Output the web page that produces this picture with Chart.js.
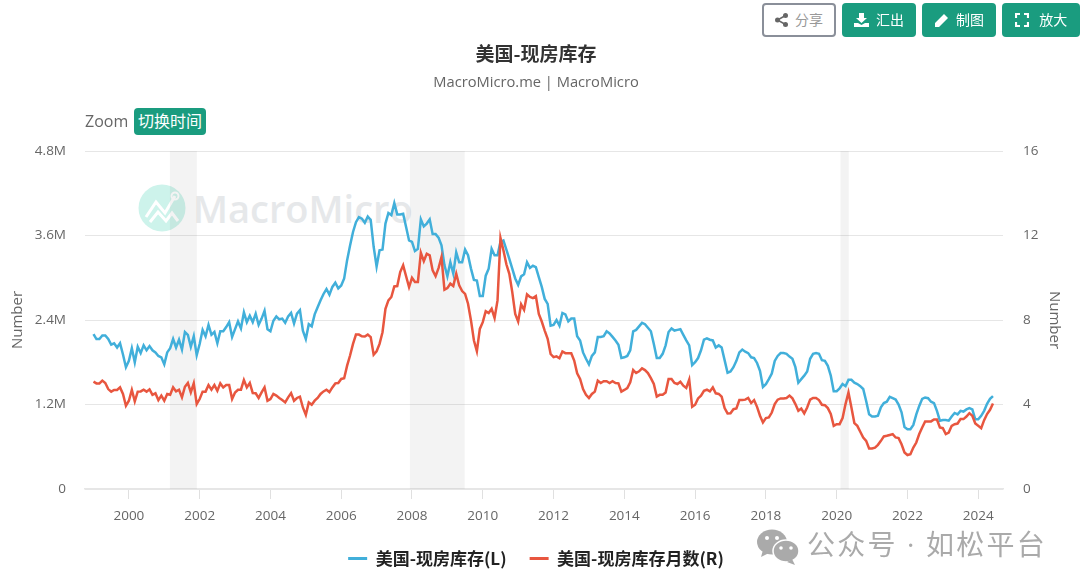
<!DOCTYPE html>
<html>
<head>
<meta charset="utf-8">
<script src="https://cdn.jsdelivr.net/npm/chart.js@4"></script>
<style>
  html, body { margin: 0; padding: 0; background: #fff; }
  #wrap { position: relative; width: 1080px; height: 587px; overflow: hidden; font-family: "Open Sans", "Noto Sans CJK SC", sans-serif; }
  canvas { position: absolute; left: 0; top: 0; }
  .btn { position: absolute; top: 3px; height: 34px; box-sizing: border-box; border-radius: 4px; background: #1a9c7f; color: #fff; font-size: 14px; line-height: 34px; text-align: center; }
  .btn svg { vertical-align: -2px; margin-right: 7px; }
  .btn.share { background: #fff; color: #999; border: 2px solid #8a8f99; line-height: 30px; }
  #zoomLabel { position: absolute; left: 85px; top: 110px; font-size: 16px; color: #666; }
  #zoomBtn { position: absolute; left: 134px; top: 108px; width: 72px; height: 27px; border-radius: 4px; background: #1a9c7f; color: #fff; font-size: 16px; line-height: 27px; text-align: center; }
  #mark { position: absolute; left: 138px; top: 184px; width: 270px; height: 50px; color: #e6e8ea; font: 600 38px "Open Sans", sans-serif; }
  #mark span { position: absolute; left: 55px; top: -2px; white-space: nowrap; }
  #wx { position: absolute; left: 757px; top: 526px; width: 300px; height: 40px; color: #aaa; font-size: 28px; line-height: 36px; white-space: nowrap; }
  #wx span { position: absolute; left: 50px; top: 0; letter-spacing: 2.2px; }
</style>
</head>
<body>
<div id="wrap">
  <div id="mark">
    <svg width="48" height="48" style="position:absolute;left:0;top:0">
      <circle cx="24" cy="24" r="23.5" fill="#cdf3eb"/>
      <polyline points="8,33 18,18 27,29 37,12" fill="none" stroke="#fff" stroke-width="3"/>
      <polyline points="12,38 20,28 28,37 34,29 40,37" fill="none" stroke="#fff" stroke-width="3"/>
      <circle cx="37" cy="12" r="3.5" fill="none" stroke="#fff" stroke-width="2"/>
    </svg>
    <span>MacroMicro</span>
  </div>
  <canvas id="chart" width="1080" height="587"></canvas>
  <div class="btn share" style="left:762px;width:74px">
    <svg width="13" height="14" viewBox="0 0 13 14"><circle cx="10.5" cy="2.5" r="2.5" fill="#666"/><circle cx="10.5" cy="11.5" r="2.5" fill="#666"/><circle cx="2.5" cy="7" r="2.5" fill="#666"/><path d="M10.5 2.5L2.5 7L10.5 11.5" stroke="#666" stroke-width="1.5" fill="none"/></svg>分享</div>
  <div class="btn" style="left:842px;width:74px">
    <svg width="15" height="14" viewBox="0 0 15 14"><path d="M5 0h5v5h3l-5.500 5L2 5h3zM0 10h4l3.500 2L11 10h4v4H0z" fill="#fff"/></svg>汇出</div>
  <div class="btn" style="left:922px;width:74px">
    <svg width="15" height="14" viewBox="0 0 15 14"><path d="M1 10L10 1l4 4-9 9H1zM11 0l4 4" fill="#fff"/></svg>制图</div>
  <div class="btn" style="left:1002px;width:78px">
    <svg width="14" height="14" viewBox="0 0 14 14"><path d="M1 5V1h4M9 1h4v4M13 9v4H9M5 13H1V9" fill="none" stroke="#fff" stroke-width="2.200"/></svg>&nbsp;放大</div>
  <div id="zoomLabel">Zoom</div>
  <div id="zoomBtn">切换时间</div>
  <div id="wx">
    <svg width="42" height="36" viewBox="0 0 42 36" style="position:absolute;left:0;top:3px">
      <ellipse cx="15" cy="13" rx="15" ry="12.500" fill="#aaa"/>
      <path d="M6 21l-2 7 8-4z" fill="#aaa"/>
      <ellipse cx="29" cy="22" rx="13" ry="11" fill="#aaa" stroke="#fff" stroke-width="1.500"/>
      <path d="M35 30l3 6-8-3z" fill="#aaa"/>
      <circle cx="10" cy="9" r="2" fill="#fff"/><circle cx="20" cy="9" r="2" fill="#fff"/>
      <circle cx="24" cy="19" r="1.800" fill="#fff"/><circle cx="34" cy="19" r="1.800" fill="#fff"/>
    </svg>
    <span>公众号 · 如松平台</span>
  </div>
</div>
<script>
const inventory = [
  2.20,2.13,2.13,2.18,2.18,2.13,2.05,2.07,2.01,2.07,1.91,1.73,
  1.82,2.00,1.80,2.02,1.93,2.04,1.97,2.03,1.97,1.94,1.89,1.87,
  1.77,1.94,2.00,2.13,2.01,2.12,1.98,2.23,2.19,2.02,2.17,1.90,
  2.06,2.26,2.17,2.33,2.19,2.23,2.07,2.24,2.24,2.30,2.37,2.16,
  2.27,2.38,2.28,2.51,2.37,2.46,2.37,2.49,2.33,2.42,2.53,2.27,
  2.24,2.39,2.45,2.41,2.42,2.36,2.45,2.50,2.35,2.49,2.54,2.25,
  2.13,2.34,2.31,2.48,2.58,2.68,2.77,2.84,2.76,2.87,2.93,2.85,
  2.89,2.99,3.25,3.46,3.65,3.79,3.86,3.84,3.78,3.87,3.82,3.44,
  3.16,3.39,3.40,3.77,3.92,3.89,4.06,3.90,3.90,3.91,3.72,3.53,
  3.51,3.38,3.41,3.83,3.73,3.77,3.83,3.62,3.62,3.57,3.46,3.18,
  3.02,3.22,3.06,3.36,3.22,3.22,3.40,3.32,3.13,2.97,2.96,2.74,
  2.74,3.03,3.13,3.41,3.32,3.32,3.51,3.53,3.40,3.27,3.13,2.99,
  2.90,3.02,3.05,3.22,3.14,3.17,3.15,3.01,2.87,2.70,2.63,2.32,
  2.33,2.40,2.32,2.50,2.48,2.38,2.42,2.42,2.17,2.11,1.94,1.85,
  1.77,1.89,1.94,2.16,2.16,2.17,2.24,2.21,2.16,2.11,2.05,1.86,
  1.87,1.89,1.97,2.24,2.26,2.31,2.36,2.34,2.29,2.24,2.06,1.86,
  1.86,1.92,2.04,2.23,2.28,2.25,2.26,2.27,2.19,2.11,2.04,1.76,
  1.80,1.86,1.97,2.12,2.14,2.12,2.11,2.01,2.04,2.01,1.83,1.65,
  1.67,1.73,1.82,1.94,1.98,1.95,1.93,1.87,1.86,1.79,1.68,1.45,
  1.49,1.56,1.64,1.82,1.89,1.93,1.93,1.92,1.88,1.85,1.73,1.51,
  1.56,1.61,1.67,1.85,1.92,1.93,1.92,1.83,1.82,1.75,1.61,1.39,
  1.39,1.43,1.49,1.46,1.55,1.55,1.51,1.49,1.46,1.42,1.25,1.06,
  1.03,1.03,1.04,1.16,1.22,1.24,1.31,1.29,1.27,1.20,1.09,0.88,
  0.85,0.85,0.91,1.06,1.18,1.28,1.30,1.29,1.24,1.22,1.11,0.97,
  0.98,0.98,0.97,1.03,1.08,1.06,1.11,1.10,1.13,1.15,1.13,0.99,
  0.99,1.04,1.11,1.21,1.28,1.32
];
const monthsSupply = [
  5.08,5.00,5.00,5.13,5.02,4.73,4.61,4.69,4.69,4.81,4.50,3.94,
  4.18,4.69,4.15,4.61,4.62,4.70,4.61,4.72,4.46,4.53,4.21,4.42,
  4.18,4.50,4.46,4.81,4.62,4.70,4.34,4.84,5.02,4.57,5.00,4.02,
  4.26,4.61,4.61,4.92,4.70,4.92,4.65,5.00,4.81,4.92,4.92,4.26,
  4.57,4.70,4.70,5.16,4.81,5.02,4.54,4.53,4.31,4.57,4.81,4.18,
  4.26,4.50,4.42,4.31,4.21,4.10,4.34,4.54,4.18,4.31,4.37,3.86,
  3.51,4.10,3.99,4.18,4.31,4.50,4.62,4.70,4.59,4.81,5.00,5.02,
  5.21,5.24,5.84,6.32,6.87,7.31,7.31,7.23,7.22,7.31,7.19,6.36,
  6.52,6.87,7.42,8.53,8.93,9.09,9.59,9.61,10.27,10.59,10.07,9.56,
  10.00,9.80,9.80,11.19,10.79,11.14,11.06,10.35,10.08,10.46,10.98,9.43,
  9.51,9.72,9.61,10.19,9.64,9.37,9.24,8.77,7.98,7.03,6.52,7.58,
  7.90,8.42,8.33,8.53,8.10,8.93,11.89,11.30,10.64,10.19,9.32,8.29,
  7.93,8.74,8.48,9.21,9.09,9.04,9.13,8.29,7.93,7.50,7.11,6.39,
  6.24,6.28,6.19,6.51,6.43,6.43,6.43,6.08,5.48,5.21,4.73,4.46,
  4.31,4.50,4.61,5.13,5.02,5.10,5.10,5.02,5.10,5.02,5.00,4.61,
  4.69,4.78,5.05,5.63,5.49,5.57,5.71,5.63,5.49,5.25,4.97,4.38,
  4.46,4.46,4.57,5.21,5.21,5.02,4.97,5.08,4.89,4.78,5.18,3.89,
  3.99,4.29,4.42,4.65,4.70,4.62,4.81,4.53,4.50,4.37,3.83,3.58,
  3.59,3.78,3.81,4.21,4.21,4.23,4.31,4.07,4.21,3.89,3.47,3.15,
  3.36,3.39,3.62,4.02,4.23,4.29,4.29,4.31,4.42,4.29,4.02,3.70,
  3.81,3.58,3.86,4.23,4.31,4.31,4.21,3.99,3.97,3.83,3.55,2.99,
  3.07,3.07,3.36,4.02,4.57,3.86,3.12,2.99,2.71,2.44,2.28,1.92,
  1.92,1.96,2.09,2.28,2.49,2.52,2.56,2.60,2.44,2.41,2.12,1.73,
  1.61,1.65,1.96,2.20,2.60,2.91,3.20,3.20,3.20,3.29,3.29,2.91,
  2.88,2.60,2.67,2.99,3.07,3.10,3.31,3.31,3.43,3.59,3.47,3.10,
  2.99,2.88,3.26,3.55,3.75,4.05
];
const startYear = 1999;
const xTicks = [2000,2002,2004,2006,2008,2010,2012,2014,2016,2018,2020,2022,2024];
const leftTicks = [0,1.2,2.4,3.6,4.8];
const rightTicks = [0,4,8,12,16];
const recessions = [[2001.16,2001.92],[2007.94,2009.49],[2020.11,2020.34]];
const seriesNames = ['美国-现房库存(L)','美国-现房库存月数(R)'];
const BLUE = '#41afda', RED = '#e8563f';
const tickFont = { family: '"Open Sans", sans-serif', size: 13.5 };
const axisTitleFont = { family: '"Open Sans", sans-serif', size: 15 };

const toPoints = (arr) => arr.map((v, i) => ({ x: startYear + i / 12, y: v }));

const bands = {
  id: 'bands',
  beforeDatasetsDraw(c) {
    const { ctx, chartArea: a, scales: { x } } = c;
    ctx.save();
    ctx.fillStyle = 'rgba(120,120,120,0.09)';
    recessions.forEach(([s, e]) => ctx.fillRect(x.getPixelForValue(s), a.top, x.getPixelForValue(e) - x.getPixelForValue(s), a.bottom - a.top));
    ctx.restore();
  }
};

new Chart(document.getElementById('chart'), {
  type: 'line',
  data: {
    datasets: [
      { label: seriesNames[0], data: toPoints(inventory), yAxisID: 'yL', borderColor: BLUE, backgroundColor: BLUE, borderWidth: 2.5, pointRadius: 0, tension: 0, order: 1 },
      { label: seriesNames[1], data: toPoints(monthsSupply), yAxisID: 'yR', borderColor: RED, backgroundColor: RED, borderWidth: 2.5, pointRadius: 0, tension: 0, order: 0 }
    ]
  },
  plugins: [bands],
  options: {
    responsive: false,
    animation: false,
    layout: { padding: { left: 5, right: 13, top: 0, bottom: 10 } },
    plugins: {
      title: { display: true, text: '美国-现房库存', color: '#333', font: { family: '"Noto Sans CJK SC"', size: 19, weight: 'bold' }, padding: { top: 42, bottom: 4 } },
      subtitle: { display: true, text: 'MacroMicro.me | MacroMicro', color: '#666', font: { family: '"Open Sans", sans-serif', size: 14.7 }, padding: { top: 5.4, bottom: 59.2 } },
      legend: {
        position: 'bottom',
        labels: {
          boxWidth: 19, boxHeight: 3, padding: 23, color: '#222',
          font: { family: '"Noto Sans CJK SC"', size: 17, weight: 'bold' },
          sort: (a, b) => a.datasetIndex - b.datasetIndex,
          generateLabels: (c) => Chart.defaults.plugins.legend.labels.generateLabels(c).map(l => ({ ...l, lineWidth: 0 }))
        }
      },
      tooltip: { enabled: false }
    },
    scales: {
      x: {
        type: 'linear', min: 1998.76, max: 2024.7,
        afterBuildTicks(a) { a.ticks = xTicks.map(v => ({ value: v })); },
        ticks: { color: '#666', font: tickFont, maxRotation: 0, autoSkip: false, padding: 9, callback: (v) => String(v) },
        grid: { display: true, drawOnChartArea: false, drawTicks: true, tickLength: 10, tickColor: '#e0e0e0' },
        border: { color: '#e6e6e6', width: 1.5 },
        afterFit(a) { a.height = 38; }
      },
      yL: {
        position: 'left', min: 0, max: 4.8,
        afterBuildTicks(a) { a.ticks = leftTicks.map(v => ({ value: v })); },
        ticks: { color: '#666', font: tickFont, padding: 19, callback: (v) => v === 0 ? '0' : v.toFixed(1) + 'M' },
        grid: { color: '#e6e6e6', drawTicks: false },
        border: { display: false },
        title: { display: true, text: 'Number', color: '#666', font: axisTitleFont },
        afterFit(a) { a.width = 80; }
      },
      yR: {
        position: 'right', min: 0, max: 16,
        afterBuildTicks(a) { a.ticks = rightTicks.map(v => ({ value: v })); },
        ticks: { color: '#666', font: tickFont, padding: 12, callback: (v) => String(v) },
        grid: { display: false },
        border: { display: false },
        title: { display: true, text: 'Number', color: '#666', font: axisTitleFont },
        afterFit(a) { a.width = 64; }
      }
    }
  }
});
</script>
</body>
</html>
